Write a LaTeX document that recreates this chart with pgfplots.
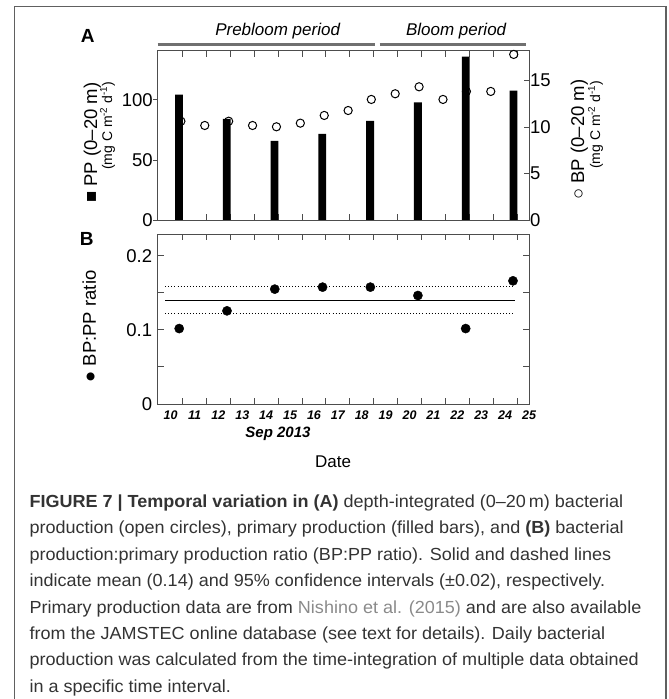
\documentclass[border=0pt]{standalone}
\usepackage{fontspec}
\setmainfont{Liberation Sans}
\newfontfamily\capfont[FakeStretch=1.03]{Liberation Sans}
\usepackage{pgfplots}
\pgfplotsset{compat=1.18}
\definecolor{axgray}{HTML}{4D4D4D}
\definecolor{pgray}{HTML}{707070}
\definecolor{framegray}{HTML}{606060}
\definecolor{captext}{HTML}{333333}
\definecolor{linkgray}{HTML}{8A8A8A}
\newcommand{\fs}[1]{\fontsize{#1}{#1}\selectfont}
\pgfplotsset{
  myaxis/.style={
    scale only axis, width=371.3pt, xmin=9.46, xmax=25,
    axis line style={draw=axgray, line width=0.9pt},
    every tick/.style={draw=axgray, line width=0.9pt},
    /pgf/number format/assume math mode=true,
    ticklabel style={font=\fs{18.5}},
  }
}
\begin{document}
\begin{tikzpicture}[x=1pt,y=1pt]
\useasboundingbox (0,0) rectangle (669,699);
\draw[framegray, line width=1.2pt] (14.5,-1) -- (14.5,692.3) -- (666,692.3) -- (666,-1);

% ---------------- Panel A ----------------
\begin{axis}[myaxis, at={(157.7pt,479pt)}, anchor=south west, height=169.3pt,
  ymin=0, ymax=141, xtick={10.5,11.5,...,24.5}, xticklabels={}, xtick pos=both,
  ytick=\empty, tick align=inside, major tick length=6pt, clip=false]
\addplot[ybar, bar width=7.8pt, fill=black, draw=none] coordinates {
 (10.35,104.4) (12.35,84.2) (14.35,65.8) (16.35,71.7)
 (18.35,82.5) (20.35,98.0) (22.35,136.0) (24.35,107.7)};
\addplot[draw=pgray, line width=3.5pt] coordinates {(9.46,146.3) (18.57,146.3)};
\addplot[draw=pgray, line width=3.5pt] coordinates {(18.75,146.3) (24.87,146.3)};
\node[font=\itshape\fs{17}] at (axis cs:14.48,157.7) {Prebloom period};
\node[font=\itshape\fs{17}] at (axis cs:21.95,157.7) {Bloom period};
\end{axis}

\begin{axis}[myaxis, at={(157.7pt,479pt)}, anchor=south west, height=169.3pt,
  ymin=0, ymax=141, axis y line*=left, axis x line=none,
  ytick={0,50,100}, tick align=outside, major tick length=4.5pt,
  yticklabel style={xshift=3pt}]
\addplot[draw=none, forget plot] coordinates {(10,0)};
\end{axis}

\begin{axis}[myaxis, at={(157.7pt,479pt)}, anchor=south west, height=169.3pt,
  ymin=0, ymax=18.2, axis y line*=right, axis x line=none,
  ytick={0,5,10,15}, tick align=inside, major tick length=5pt,
  yticklabel style={xshift=-2.5pt}]
\addplot[only marks, mark=o, mark size=4.1pt, mark options={draw=black, fill=white, line width=1pt}] coordinates {
 (10.43,10.62) (11.43,10.16) (12.43,10.62) (13.43,10.16) (14.43,10.02)
 (15.43,10.41) (16.43,11.24) (17.43,11.77) (18.40,12.96) (19.40,13.57)
 (20.40,14.32) (21.40,12.96) (22.38,13.82) (23.40,13.82) (24.36,17.80)};
\end{axis}

% ---------------- Panel B ----------------
\begin{axis}[myaxis, at={(157.7pt,295pt)}, anchor=south west, height=169.7pt,
  ymin=0, ymax=0.229,
  xtick={10,11,...,25}, minor xtick={10.5,11.5,...,24.5},
  major x tick style={draw=none}, xtick pos=both, xticklabel pos=lower,
  ytick={0,0.1,0.2}, minor ytick={0.05,0.15}, ytick pos=both, yticklabel pos=left,
  tick align=inside, major tick length=6pt, minor tick length=6pt,
  xticklabel style={font=\bfseries\itshape\fs{12.5}, yshift=-3pt},
  yticklabel style={xshift=-2pt}, clip=false]
\addplot[draw=black, line width=0.9pt] coordinates {(9.77,0.140) (24.43,0.140)};
\addplot[draw=black, line width=0.9pt, dash pattern=on 0.9pt off 2.2pt] coordinates {(9.77,0.158) (24.43,0.158)};
\addplot[draw=black, line width=0.9pt, dash pattern=on 0.9pt off 2.2pt] coordinates {(9.77,0.122) (24.43,0.122)};
\addplot[only marks, mark=*, mark size=4.6pt, mark options={fill=black, draw=black}] coordinates {
 (10.36,0.1018) (12.36,0.1257) (14.36,0.1550) (16.36,0.1577)
 (18.36,0.1577) (20.35,0.1464) (22.35,0.1018) (24.33,0.1662)};
\end{axis}

% ---------------- Labels ----------------
\node[font=\bfseries\fs{19}] at (87.7,663.3) {A};
\node[font=\bfseries\fs{19}] at (86.7,459.7) {B};
\node[rotate=90, anchor=east, font=\fs{18.5}] at (92.3,620) {■ PP (0–20 m)};
\node[rotate=90, anchor=east, font=\fs{14}] at (107.5,621) {(mg C m\textsuperscript{-2} d\textsuperscript{-1})};
\node[rotate=90, anchor=east, font=\fs{18.5}] at (579.3,623) {○ BP (0–20 m)};
\node[rotate=90, anchor=east, font=\fs{14}] at (595.5,622) {(mg C m\textsuperscript{-2} d\textsuperscript{-1})};
\node[rotate=90, font=\fs{18.5}] at (89.3,372.5) {● BP:PP ratio};
\node[font=\bfseries\itshape\fs{15}] at (278,264.7) {Sep 2013};
\node[font=\fs{17}] at (333,237.3) {Date};

% ---------------- Caption ----------------
\begin{scope}[every node/.style={anchor=base west, inner sep=0pt, font=\capfont\fs{17.5}, text=captext}]
\node at (29.3,191.5) {\textbf{FIGURE 7 | Temporal variation in (A)} depth-integrated (0–20\,m) bacterial};
\node at (29.3,165.1) {production (open circles), primary production (filled bars), and \textbf{(B)} bacterial};
\node at (29.3,138.7) {production:primary production ratio (BP:PP ratio). Solid and dashed lines};
\node at (29.3,112.3) {indicate mean (0.14) and 95\% confidence intervals (±0.02), respectively.};
\node at (29.3,85.9) {Primary production data are from {\color{linkgray}Nishino et al. (2015)} and are also available};
\node at (29.3,59.5) {from the JAMSTEC online database (see text for details). Daily bacterial};
\node at (29.3,33.1) {production was calculated from the time-integration of multiple data obtained};
\node at (29.3,6.7) {in a specific time interval.};
\end{scope}
\end{tikzpicture}
\end{document}
